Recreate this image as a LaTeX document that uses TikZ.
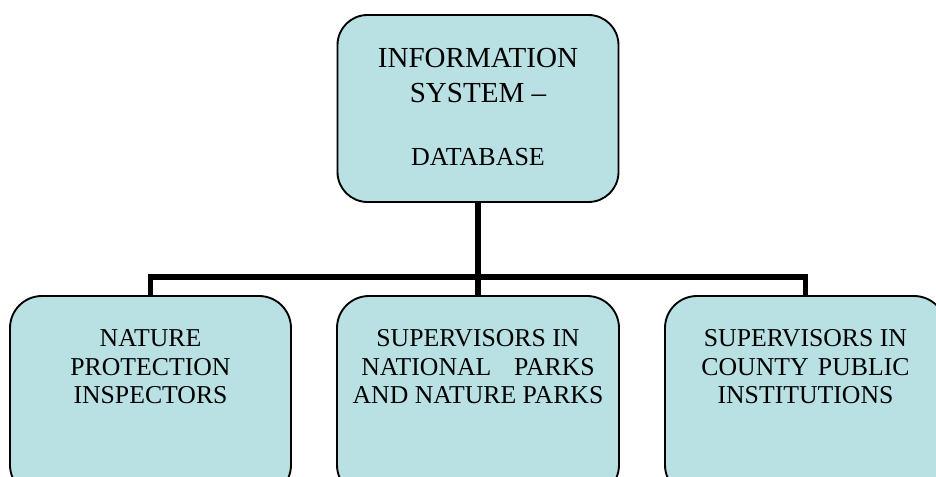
\documentclass[tikz,border=0pt]{standalone}
\usepackage{fontspec}
\setmainfont{Liberation Serif}
\definecolor{boxfill}{RGB}{185,224,227}
\begin{document}
\begin{tikzpicture}[x=0.75pt,y=-0.75pt,
  box/.style={draw=black,line width=1.4pt,fill=boxfill,rounded corners=24pt,inner sep=0pt},
  conn/.style={line width=4pt,black},
  lbl/.style={inner sep=0pt,align=center,font=\fontsize{19.3}{21.4}\selectfont,anchor=north},
  toplbl/.style={inner sep=0pt,align=center,font=\fontsize{21.8}{26.25}\selectfont,anchor=north}]
\useasboundingbox (0,0) rectangle (936,477);
\clip (0,0) rectangle (936,477);
\node[box,rounded corners=22.5pt,minimum width=210.75pt,minimum height=140.25pt] (top) at (478,108.5) {};
\node[box,minimum width=210.75pt,minimum height=150.75pt] (b1) at (150.5,396.5) {};
\node[box,minimum width=211.5pt,minimum height=150.75pt] (b2) at (478,396.5) {};
\node[box,minimum width=210.75pt,minimum height=150.75pt] (b3) at (805.5,396.5) {};
\coordinate (bus) at (0,277);
\draw[conn] (top.south) -- (b2.north);
\draw[conn] (b1.north) -- (b1.north |- bus) -- (b3.north |- bus) -- (b3.north);
\node[toplbl] (t1) at (478,48.4) {INFORMATION\\SYSTEM –};
\node[inner sep=0pt,anchor=base,font=\fontsize{19.5}{21}\selectfont] (t2) at (478,166) {DATABASE};
\node[lbl] (l1) at (150.5,329.6) {NATURE\\PROTECTION\\INSPECTORS};
\node[lbl] (l2) at (478,329.6) {SUPERVISORS IN\\NATIONAL\hspace{17pt}PARKS\\AND NATURE PARKS};
\node[lbl] (l3) at (805.5,329.6) {SUPERVISORS IN\\COUNTY\hspace{7pt}PUBLIC\\INSTITUTIONS};
\end{tikzpicture}
\end{document}
